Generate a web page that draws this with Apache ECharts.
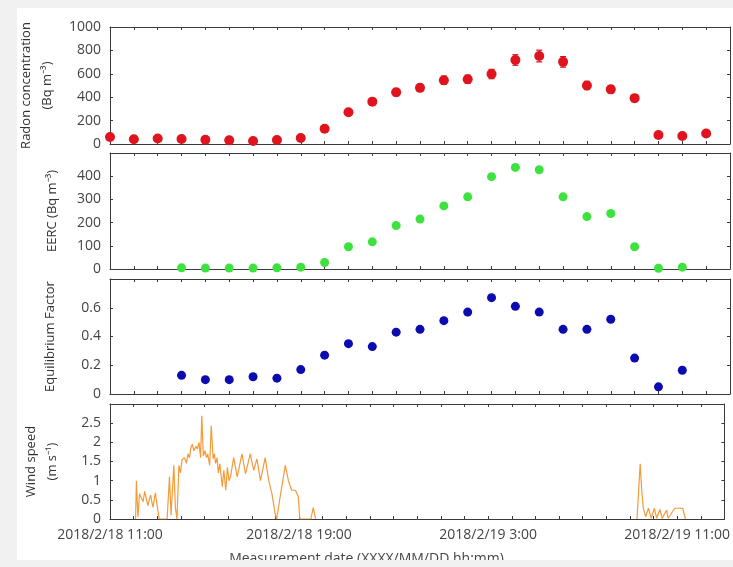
<!DOCTYPE html>
<html>
<head>
<meta charset="utf-8">
<script src="https://cdn.jsdelivr.net/npm/echarts@6/dist/echarts.min.js"></script>
<style>
html,body{margin:0;padding:0;background:#fff;}
#chart{width:733px;height:567px;}
</style>
</head>
<body>
<div id="chart"></div>
<script>
// ---------------- data ----------------
const radonTimes = ['2018-02-18 11:00','2018-02-18 12:00','2018-02-18 13:00','2018-02-18 14:00','2018-02-18 15:00','2018-02-18 16:00','2018-02-18 17:00','2018-02-18 18:00','2018-02-18 19:00','2018-02-18 20:00','2018-02-18 21:00','2018-02-18 22:00','2018-02-18 23:00','2018-02-19 00:00','2018-02-19 01:00','2018-02-19 02:00','2018-02-19 03:00','2018-02-19 04:00','2018-02-19 05:00','2018-02-19 06:00','2018-02-19 07:00','2018-02-19 08:00','2018-02-19 09:00','2018-02-19 10:00','2018-02-19 11:00','2018-02-19 12:00'];
const radonValues = [60, 40, 47, 43, 37, 31, 26, 34, 51, 130, 272, 362, 442, 480, 545, 553, 598, 718, 752, 702, 500, 467, 392, 77, 68, 90];
const radonErrors = [10, 8, 8, 8, 8, 8, 8, 8, 10, 15, 20, 25, 30, 30, 35, 35, 40, 45, 50, 45, 35, 30, 30, 10, 10, 10];

const eercTimes = ['2018-02-18 14:00','2018-02-18 15:00','2018-02-18 16:00','2018-02-18 17:00','2018-02-18 18:00','2018-02-18 19:00','2018-02-18 20:00','2018-02-18 21:00','2018-02-18 22:00','2018-02-18 23:00','2018-02-19 00:00','2018-02-19 01:00','2018-02-19 02:00','2018-02-19 03:00','2018-02-19 04:00','2018-02-19 05:00','2018-02-19 06:00','2018-02-19 07:00','2018-02-19 08:00','2018-02-19 09:00','2018-02-19 10:00','2018-02-19 11:00'];
const eercValues = [5, 4, 4, 4, 5, 8, 28, 96, 117, 187, 215, 272, 311, 398, 438, 428, 311, 226, 239, 96, 3, 8];
const eqFactorValues = [0.13, 0.10, 0.10, 0.12, 0.11, 0.17, 0.27, 0.35, 0.33, 0.43, 0.45, 0.51, 0.57, 0.67, 0.61, 0.57, 0.45, 0.45, 0.52, 0.25, 0.05, 0.165];

const windTimes = [
 '2018-02-18 12:05','2018-02-18 12:07','2018-02-18 12:11','2018-02-18 12:15','2018-02-18 12:24','2018-02-18 12:28','2018-02-18 12:36','2018-02-18 12:43','2018-02-18 12:49','2018-02-18 12:55','2018-02-18 13:01','2018-02-18 13:05',
 '2018-02-18 13:25','2018-02-18 13:31','2018-02-18 13:35','2018-02-18 13:42','2018-02-18 13:46','2018-02-18 13:50','2018-02-18 13:55','2018-02-18 13:59','2018-02-18 14:03','2018-02-18 14:09','2018-02-18 14:14','2018-02-18 14:18','2018-02-18 14:22','2018-02-18 14:25','2018-02-18 14:29','2018-02-18 14:33','2018-02-18 14:38','2018-02-18 14:42','2018-02-18 14:46','2018-02-18 14:50','2018-02-18 14:53','2018-02-18 14:57','2018-02-18 15:01','2018-02-18 15:05','2018-02-18 15:08','2018-02-18 15:13','2018-02-18 15:17','2018-02-18 15:22','2018-02-18 15:25','2018-02-18 15:28','2018-02-18 15:32','2018-02-18 15:35','2018-02-18 15:39','2018-02-18 15:45','2018-02-18 15:49','2018-02-18 15:54','2018-02-18 15:58','2018-02-18 16:02','2018-02-18 16:06','2018-02-18 16:14','2018-02-18 16:23','2018-02-18 16:35','2018-02-18 16:44','2018-02-18 16:56','2018-02-18 17:05','2018-02-18 17:13','2018-02-18 17:22','2018-02-18 17:34','2018-02-18 17:43','2018-02-18 17:51','2018-02-18 17:59','2018-02-18 18:03','2018-02-18 18:12','2018-02-18 18:25','2018-02-18 18:33','2018-02-18 18:41','2018-02-18 18:51','2018-02-18 18:58','2018-02-18 19:02','2018-02-18 19:30','2018-02-18 19:36','2018-02-18 19:42',
 '2018-02-19 05:00',
 '2018-02-19 09:18','2018-02-19 09:26','2018-02-19 09:30','2018-02-19 09:34','2018-02-19 09:40','2018-02-19 09:47','2018-02-19 09:54','2018-02-19 10:02','2018-02-19 10:08','2018-02-19 10:16','2018-02-19 10:22','2018-02-19 10:33','2018-02-19 10:37','2018-02-19 10:54','2018-02-19 11:14','2018-02-19 11:21'
];
const windSpeed = [
 0, 1.0, 0.05, 0.66, 0.45, 0.72, 0.35, 0.62, 0.3, 0.68, 0.25, 0,
 0, 1.1, 0.1, 1.4, 0.3, 0, 1.4, 1.2, 1.55, 1.6, 1.45, 1.7, 1.6, 1.85, 1.95, 1.78, 1.9, 1.83, 2.0, 1.6, 2.69, 1.65, 1.78, 1.6, 1.7, 1.4, 2.43, 1.57, 1.7, 1.45, 1.6, 1.2, 1.44, 0.84, 1.27, 0.75, 1.35, 1.0, 1.1, 1.6, 1.1, 1.7, 1.18, 1.7, 1.27, 1.57, 1.0, 1.6, 1.0, 0.66, 0.15, 0, 0.58, 1.4, 1.0, 0.75, 0.75, 0.58, 0, 0, 0.3, 0,
 null,
 0, 1.44, 0.75, 0.28, 0.06, 0.28, 0.02, 0.28, 0.02, 0.25, 0.02, 0.23, 0.02, 0.28, 0.28, 0
];

const xStart = '2018-02-18 11:00';
const xEnd = '2018-02-19 13:00';
const yTicks = [
  {min: 0, max: 1000, interval: 200},
  {min: 0, max: 500, interval: 100},
  {min: 0, max: 0.8, interval: 0.2},
  {min: 0, max: 3, interval: 0.5}
];
const yNames = [
  'Radon concentration\n(Bq m⁻³)',
  'EERC (Bq m⁻³)',
  'Equilibrium Factor',
  'Wind speed\n(m s⁻¹)'
];
const xName = 'Measurement date (XXXX/MM/DD hh:mm)';

// ---------------- helpers ----------------
function toMs(s) {
  const [d, t] = s.split(' ');
  const [Y, M, D] = d.split('-').map(Number);
  const [h, mi] = t.split(':').map(Number);
  return Date.UTC(Y, M - 1, D, h, mi);
}
const HOUR = 3600000;
const t0 = toMs(xStart), t1 = toMs(xEnd);
function fmtX(v) {
  if ((v - t0) % (8 * HOUR) !== 0 || v > t0 + 24 * HOUR) return '';
  const d = new Date(v);
  const mm = String(d.getUTCMinutes()).padStart(2, '0');
  return d.getUTCFullYear() + '/' + (d.getUTCMonth() + 1) + '/' + d.getUTCDate() + ' ' + d.getUTCHours() + ':' + mm;
}

const FONT = 'Open Sans';
const AX = '#3a3a3a';
const grids = [
  {left: 110, top: 27, width: 620, height: 117},
  {left: 110, top: 153, width: 620, height: 116},
  {left: 110, top: 279, width: 620, height: 115},
  {left: 110, top: 404, width: 620, height: 115}
];
const nameGaps = [47, 47, 49, 47];

const xAxis = [], yAxis = [];
grids.forEach((g, i) => {
  ['bottom', 'top'].forEach(pos => {
    xAxis.push({
      type: 'value', gridIndex: i, position: pos, min: t0, max: t1, interval: HOUR,
      axisLine: {show: true, onZero: false, lineStyle: {color: AX, width: 1}},
      axisTick: {show: true, inside: true, length: 3, lineStyle: {color: AX}},
      splitLine: {show: false},
      axisLabel: {show: pos === 'bottom' && i === 3, formatter: fmtX, color: '#444', fontFamily: FONT, fontSize: 14, margin: 9, showMaxLabel: true, hideOverlap: false}
    });
  });
  ['left', 'right'].forEach(pos => {
    const yt = yTicks[i];
    yAxis.push({
      type: 'value', gridIndex: i, position: pos, min: yt.min, max: yt.max, interval: yt.interval,
      name: pos === 'left' ? yNames[i] : '',
      nameLocation: 'middle', nameGap: nameGaps[i],
      nameTextStyle: {color: '#333', fontFamily: FONT, fontSize: 13, lineHeight: 21},
      axisLine: {show: true, onZero: false, lineStyle: {color: AX, width: 1}},
      axisTick: {show: true, inside: true, length: 3, lineStyle: {color: AX}},
      splitLine: {show: false},
      axisLabel: {show: pos === 'left', color: '#444', fontFamily: FONT, fontSize: 14, margin: 9,
        showMaxLabel: i === 0, formatter: v => String(Math.round(v * 100) / 100)}
    });
  });
});

const radonData = radonTimes.map((t, k) => [toMs(t), radonValues[k], radonErrors[k]]);
const eercData = eercTimes.map((t, k) => [toMs(t), eercValues[k]]);
const eqData = eercTimes.map((t, k) => [toMs(t), eqFactorValues[k]]);
const windData = windTimes.map((t, k) => [toMs(t), windSpeed[k] === null ? '-' : windSpeed[k]]);

const option = {
  backgroundColor: '#ffffff',
  animation: false,
  grid: grids,
  xAxis: xAxis,
  yAxis: yAxis,
  series: [
    {
      type: 'custom', xAxisIndex: 0, yAxisIndex: 0, data: radonData,
      encode: {x: 0, y: 1},
      renderItem: function (params, api) {
        const x = api.value(0), y = api.value(1), e = api.value(2);
        const hi = api.coord([x, y + e]);
        const lo = api.coord([x, y - e]);
        const c = 3;
        const st = {stroke: '#d4121c', lineWidth: 1.2};
        return {type: 'group', children: [
          {type: 'line', shape: {x1: hi[0], y1: hi[1], x2: lo[0], y2: lo[1]}, style: st},
          {type: 'line', shape: {x1: hi[0] - c, y1: hi[1], x2: hi[0] + c, y2: hi[1]}, style: st},
          {type: 'line', shape: {x1: lo[0] - c, y1: lo[1], x2: lo[0] + c, y2: lo[1]}, style: st}
        ]};
      },
      z: 2
    },
    {
      type: 'scatter', xAxisIndex: 0, yAxisIndex: 0, symbolSize: 10,
      itemStyle: {color: '#e0141e', opacity: 1},
      data: radonData.map(d => [d[0], d[1]]), z: 3
    },
    {
      type: 'scatter', xAxisIndex: 2, yAxisIndex: 2, symbolSize: 9,
      itemStyle: {color: '#3ee23e', opacity: 1}, data: eercData, z: 3
    },
    {
      type: 'scatter', xAxisIndex: 4, yAxisIndex: 4, symbolSize: 9,
      itemStyle: {color: '#0b0bb0', opacity: 1}, data: eqData, z: 3
    },
    {
      type: 'line', xAxisIndex: 6, yAxisIndex: 6, showSymbol: false, connectNulls: false,
      lineStyle: {color: '#f59a38', width: 1.2}, data: windData, z: 3
    }
  ],
  graphic: [
    {type: 'text', left: 'center', top: 552, z: 10,
      style: {text: xName, fill: '#444', font: '14px "Open Sans"', x: 0, y: 0}},
    {type: 'rect', left: 0, top: 560, z: 100, shape: {width: 733, height: 7}, style: {fill: '#f1f1f1'}},
    {type: 'rect', left: 0, top: 0, z: 100, shape: {width: 733, height: 8}, style: {fill: '#f1f1f1'}},
    {type: 'rect', left: 0, top: 0, z: 100, shape: {width: 17, height: 567}, style: {fill: '#f1f1f1'}}
  ]
};

const chart = echarts.init(document.getElementById('chart'), null, {renderer: 'canvas'});
chart.setOption(option);
</script>
</body>
</html>
